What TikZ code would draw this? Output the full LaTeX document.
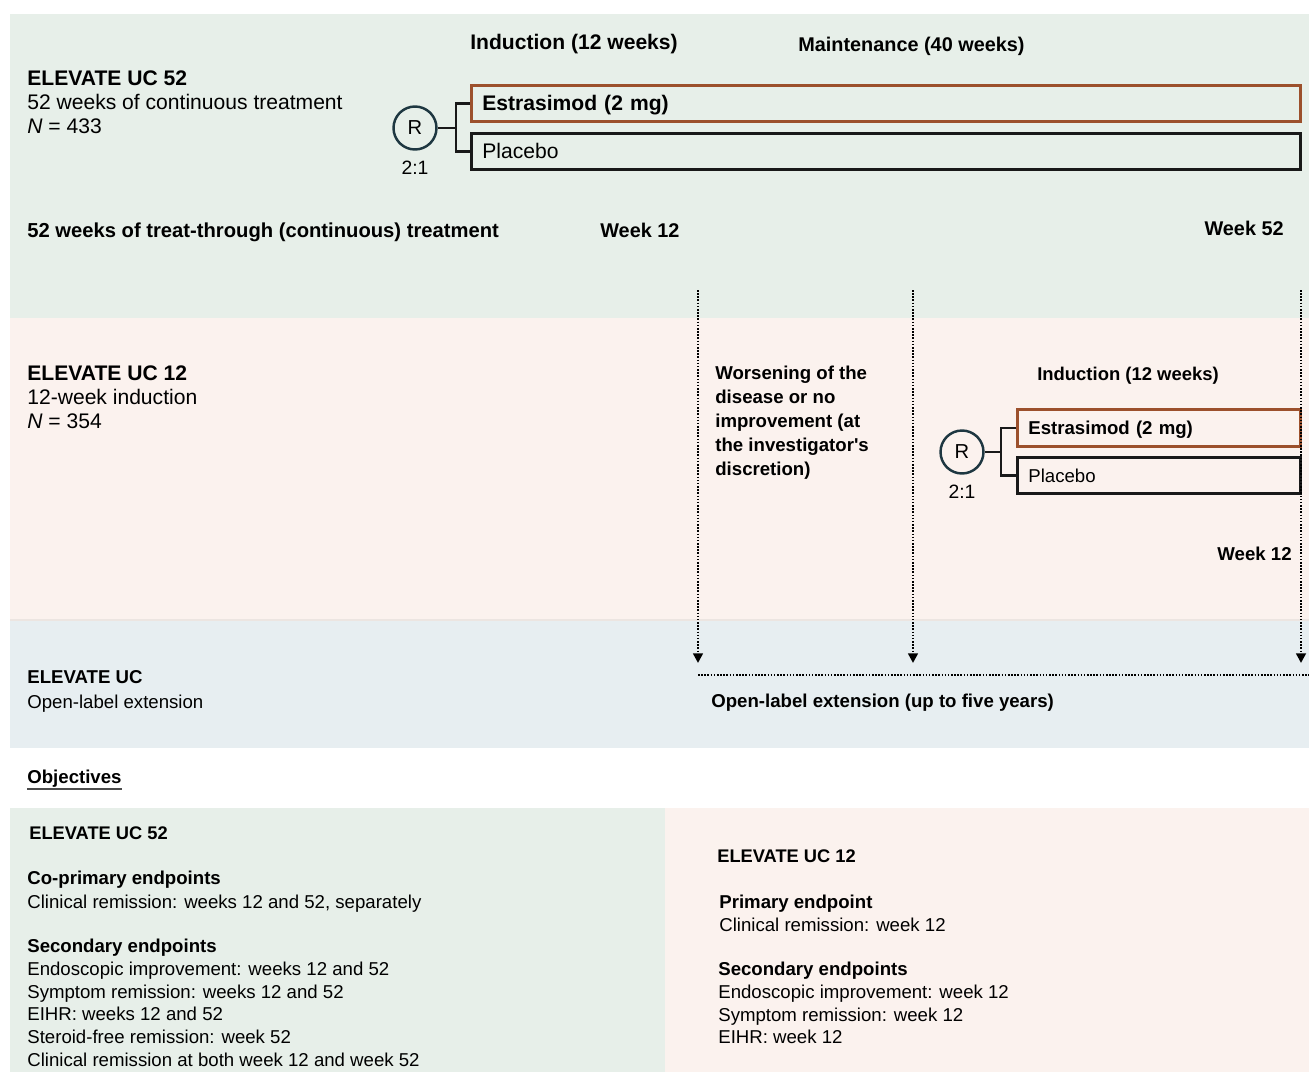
\documentclass[tikz,border=0pt]{standalone}
\usepackage{fontspec}
\setmainfont{Liberation Sans}
\newfontfamily\plainquote{Liberation Sans}
\usetikzlibrary{positioning, arrows.meta, calc}

\definecolor{panelgreen}{RGB}{231,239,233}
\definecolor{panelpink}{RGB}{251,242,238}
\definecolor{panelblue}{RGB}{231,238,241}
\definecolor{armbrown}{RGB}{156,80,44}
\definecolor{randteal}{RGB}{30,55,65}

\begin{document}
\begin{tikzpicture}[
    x=0.02cm, y=-0.02cm,
    >={Triangle[length=5.5pt, width=5.5pt]},
    % Styles
    hd/.style={inner sep=0, anchor=north west, align=left, font={\fontsize{12}{13.66}\selectfont}},
    sm/.style={inner sep=0, anchor=north west, align=left, font={\fontsize{10.6}{12.9}\selectfont}},
    rnd/.style={draw=randteal, circle, line width=1.4pt, minimum size=0.86cm, inner sep=0, font={\fontsize{11.5}{13}\selectfont}},
    ratio/.style={inner sep=0, font={\fontsize{11}{13}\selectfont}},
    arm/.style={draw=black!90, line width=1.6pt, rectangle, anchor=north west, align=left, inner xsep=0.22cm, inner ysep=0, text depth=0pt},
    fork/.style={draw=black!90, line width=1.4pt},
    drop/.style={line width=1.4pt, dash pattern=on 0.9pt off 0.9pt, ->}
    ]

    \useasboundingbox (0,0) rectangle (1309,1072);

    % Panels
    \fill[panelgreen] (10,14) rectangle (1309,318);
    \fill[panelpink] (10,318) rectangle (1309,620);
    \fill[panelblue] (10,620) rectangle (1309,748);
    \draw[line width=1pt, color={rgb,255:red,236;green,229;blue,225}] (10,620) -- (1309,620);
    \fill[panelgreen] (10,808) rectangle (665,1072);
    \fill[panelpink] (665,808) rectangle (1309,1072);

    % 1. ELEVATE UC 52
    \node (indA) [hd, font={\fontsize{12}{14}\selectfont\bfseries}] at (470,34) {Induction (12 weeks)};
    \node (maintA) [hd, font={\fontsize{11.3}{13}\selectfont\bfseries}] at (798,37) {Maintenance (40 weeks)};
    \node (uc52) [hd] at (27,70) {\textbf{ELEVATE UC 52}\\52 weeks of continuous treatment\\\textit{N} = 433};

    \node (rA) [rnd] at (415,128) {R};
    \node (ratioA) [ratio, below=0.2cm of rA] {2:1};
    \node (estA) [arm, draw=armbrown, text width=16.14cm, minimum height=0.72cm, text height=8.6pt, font={\fontsize{12}{14}\selectfont\bfseries}] at (470,84) {Estrasimod (2 mg)};
    \node (plcA) [arm, text width=16.14cm, minimum height=0.72cm, text height=8.6pt, font={\fontsize{12}{14}\selectfont}] at (470,132) {Placebo};
    \draw[fork] (rA.east) -- ++(18,0) coordinate (forkA);
    \draw[fork] (estA.west) -| (forkA) |- (plcA.west);

    \node (treatA) [hd, font={\fontsize{11.5}{13}\selectfont\bfseries}] at (27,223) {52 weeks of treat-through (continuous) treatment};
    \node (wk12A) [hd, font={\fontsize{11.3}{13}\selectfont\bfseries}] at (600,223) {Week 12};
    \node (wk52A) [hd, anchor=north east, font={\fontsize{11.3}{13}\selectfont\bfseries}] at (1284,221) {Week 52};

    % 2. ELEVATE UC 12
    \node (uc12) [hd] at (27,365) {\textbf{ELEVATE UC 12}\\12-week induction\\\textit{N} = 354};
    \node (worse) [sm, font={\fontsize{10.6}{13.66}\selectfont\bfseries}] at (715,366) {Worsening of the\\disease or no\\improvement (at\\the investigator{\plainquote\bfseries '}s\\discretion)};

    \node (indB) [sm, anchor=north, font={\fontsize{10.5}{13}\selectfont\bfseries}] at (1128,367) {Induction (12 weeks)};
    \node (rB) [rnd] at (962,452) {R};
    \node (ratioB) [ratio, below=0.2cm of rB] {2:1};
    \node (estB) [arm, draw=armbrown, text width=5.22cm, minimum height=0.74cm, text height=7.6pt, font={\fontsize{10.6}{13}\selectfont\bfseries}] at (1016,408) {Estrasimod (2 mg)};
    \node (plcB) [arm, text width=5.22cm, minimum height=0.72cm, text height=7.6pt, font={\fontsize{10.6}{13}\selectfont}] at (1016,456) {Placebo};
    \draw[fork] (rB.east) -- ++(16,0) coordinate (forkB);
    \draw[fork] (estB.west) -| (forkB) |- (plcB.west);

    \node (wk12B) [sm, anchor=north east, font={\fontsize{10.6}{13}\selectfont\bfseries}] at (1292,547) {Week 12};

    % 3. Open-label extension
    \node (ole) [sm, font={\fontsize{10.6}{14.2}\selectfont}] at (27,670) {\textbf{ELEVATE UC}\\Open-label extension};
    \node (oleText) [sm, font={\fontsize{10.6}{13}\selectfont\bfseries}] at (711,694) {Open-label extension (up to five years)};

    % Drops into the extension
    \coordinate (dropA) at (698,290);
    \coordinate (dropB) at (913,290);
    \coordinate (dropC) at (1301,290);
    \coordinate (landA) at (698,663);
    \coordinate (landB) at (913,663);
    \coordinate (landC) at (1301,663);
    \coordinate (oleL) at (698,675);
    \coordinate (oleR) at (1309,675);
    \draw[drop] (dropA) -- (landA);
    \draw[drop] (dropB) -- (landB);
    \draw[drop] (dropC) -- (landC);
    \draw[line width=1.4pt, dash pattern=on 0.9pt off 0.9pt] (oleL) -- (oleR);

    % 4. Objectives
    \node (obj) [sm, font={\fontsize{10.6}{13}\selectfont\bfseries}] at (27,770) {Objectives};
    \draw[line width=1.1pt, color=black!70] ([yshift=-0.6pt]obj.south west) -- ([yshift=-0.6pt]obj.south east);

    \node (obj52) [sm, font={\fontsize{10.4}{13}\selectfont\bfseries}] at (29,826) {ELEVATE UC 52};
    \node (co52) [sm, font={\fontsize{10.6}{13.66}\selectfont}] at (27,871) {\textbf{Co-primary endpoints}\\Clinical remission: weeks 12 and 52, separately};
    \node (sec52) [sm] at (27,939) {\textbf{Secondary endpoints}\\Endoscopic improvement: weeks 12 and 52\\Symptom remission: weeks 12 and 52\\EIHR: weeks 12 and 52\\Steroid-free remission: week 52\\Clinical remission at both week 12 and week 52};

    \node (obj12) [sm, font={\fontsize{10.4}{13}\selectfont\bfseries}] at (717,849) {ELEVATE UC 12};
    \node (pri12) [sm, font={\fontsize{10.6}{13.1}\selectfont}] at (719,895) {\textbf{Primary endpoint}\\Clinical remission: week 12};
    \node (sec12) [sm] at (718,962) {\textbf{Secondary endpoints}\\Endoscopic improvement: week 12\\Symptom remission: week 12\\EIHR: week 12};
\end{tikzpicture}
\end{document}
